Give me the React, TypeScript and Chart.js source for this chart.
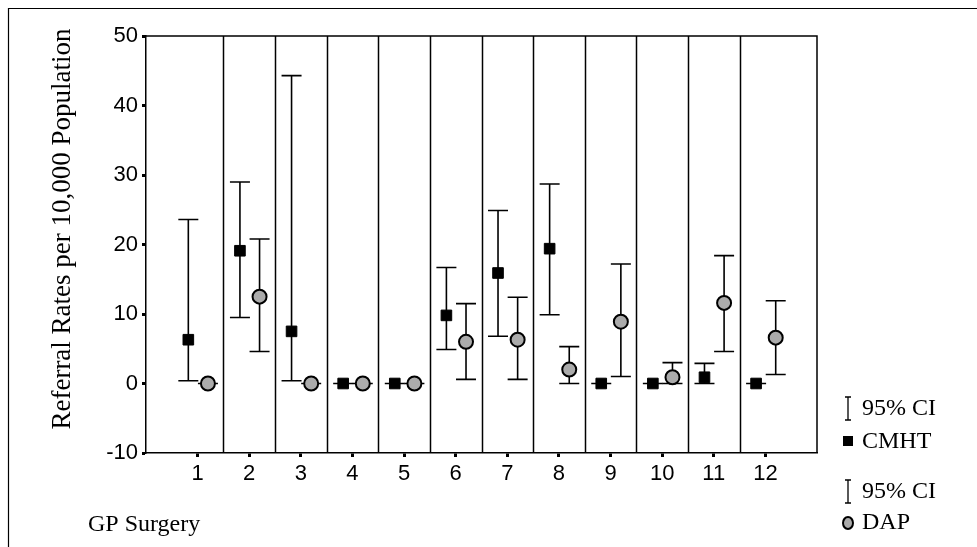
import React, { useEffect, useRef } from "react";
import { Chart, registerables } from "chart.js";

Chart.register(...registerables);

const categories = [1, 2, 3, 4, 5, 6, 7, 8, 9, 10, 11, 12];
const cmhtRate = [6.3, 19.1, 7.5, 0, 0, 9.8, 15.9, 19.4, 0, 0, 0.9, 0];
const cmhtLower = [0.4, 9.5, 0.4, 0, 0, 4.9, 6.8, 9.9, 0, 0, 0, 0];
const cmhtUpper = [23.6, 29.0, 44.3, 0, 0, 16.7, 24.9, 28.7, 0, 0, 2.9, 0];
const dapRate = [0, 12.5, 0, 0, 0, 6.0, 6.3, 2.0, 8.9, 0.9, 11.6, 6.6];
const dapLower = [0, 4.6, 0, 0, 0, 0.6, 0.6, 0, 1.0, 0, 4.6, 1.3];
const dapUpper = [0, 20.8, 0, 0, 0, 11.5, 12.4, 5.3, 17.2, 3.0, 18.4, 11.9];
const yTicks = [-10, 0, 10, 20, 30, 40, 50];
const yTitle = "Referral Rates per 10,000 Population";
const xTitle = "GP Surgery";
const legendLabels = ["95% CI", "CMHT", "95% CI", "DAP"];

const CMHT_OFFSET = -0.18;
const DAP_OFFSET = 0.2;
const SERIF = "'Liberation Serif', 'Times New Roman', serif";
const SANS = "'Liberation Sans', Arial, sans-serif";
const DAP_FILL = "#ababab";

function drawIBar(ctx: CanvasRenderingContext2D, x: number, y1: number, y2: number, half: number) {
  ctx.beginPath();
  ctx.moveTo(x, y1);
  ctx.lineTo(x, y2);
  ctx.moveTo(x - half, y1);
  ctx.lineTo(x + half, y1);
  ctx.moveTo(x - half, y2);
  ctx.lineTo(x + half, y2);
  ctx.stroke();
}

const decorPlugin = {
  id: "decor",
  beforeDatasetsDraw(chart: any) {
    const ctx: CanvasRenderingContext2D = chart.ctx;
    const xs = chart.scales.x;
    const ys = chart.scales.y;
    const area = chart.chartArea;
    ctx.save();
    ctx.strokeStyle = "#000";
    ctx.lineWidth = 1.5;
    for (let i = 0; i < categories.length - 1; i++) {
      const px = Math.round(xs.getPixelForValue(categories[i] + 0.5)) + 0.5;
      ctx.beginPath();
      ctx.moveTo(px, area.top);
      ctx.lineTo(px, area.bottom);
      ctx.stroke();
    }
    ctx.beginPath();
    ctx.moveTo(area.left, area.top);
    ctx.lineTo(area.right, area.top);
    ctx.lineTo(area.right, area.bottom);
    ctx.stroke();
    const drawSet = (off: number, lo: number[], hi: number[]) => {
      categories.forEach((c, i) => {
        const px = xs.getPixelForValue(c + off);
        drawIBar(ctx, px, ys.getPixelForValue(hi[i]), ys.getPixelForValue(lo[i]), 10);
      });
    };
    ctx.lineWidth = 1.6;
    drawSet(CMHT_OFFSET, cmhtLower, cmhtUpper);
    drawSet(DAP_OFFSET, dapLower, dapUpper);
    ctx.restore();
  },
  afterDraw(chart: any) {
    const ctx: CanvasRenderingContext2D = chart.ctx;
    ctx.save();
    ctx.fillStyle = "#000";
    ctx.strokeStyle = "#000";
    ctx.lineWidth = 1.2;
    ctx.beginPath();
    ctx.moveTo(8.5, 547);
    ctx.lineTo(8.5, 8.5);
    ctx.lineTo(977, 8.5);
    ctx.stroke();
    ctx.save();
    ctx.translate(63, 229);
    ctx.rotate(-Math.PI / 2);
    ctx.font = `27px ${SERIF}`;
    ctx.textAlign = "center";
    ctx.textBaseline = "middle";
    ctx.fillText(yTitle, 0, 0);
    ctx.restore();
    ctx.font = `24px ${SERIF}`;
    ctx.textAlign = "left";
    ctx.textBaseline = "middle";
    ctx.fillText(xTitle, 88, 525);
    const lx = 848;
    const tx = 862;
    ctx.lineWidth = 1.3;
    drawIBar(ctx, lx, 397, 420, 3);
    ctx.fillText(legendLabels[0], tx, 409);
    ctx.fillRect(lx - 5, 436, 10, 10);
    ctx.fillText(legendLabels[1], tx, 442);
    drawIBar(ctx, lx, 480, 503, 3);
    ctx.fillText(legendLabels[2], tx, 492);
    ctx.beginPath();
    ctx.ellipse(lx, 523, 5, 6, 0, 0, Math.PI * 2);
    ctx.fillStyle = DAP_FILL;
    ctx.fill();
    ctx.lineWidth = 2;
    ctx.stroke();
    ctx.fillStyle = "#000";
    ctx.fillText(legendLabels[3], tx, 523);
    ctx.restore();
  },
};

export default function App() {
  const ref = useRef<HTMLCanvasElement | null>(null);
  useEffect(() => {
    if (!ref.current) return;
    const chart = new Chart(ref.current, {
      type: "scatter",
      data: {
        datasets: [
          {
            label: "CMHT",
            data: categories.map((c, i) => ({ x: c + CMHT_OFFSET, y: cmhtRate[i] })),
            pointStyle: "rect",
            pointRadius: 7.5,
            backgroundColor: "#000",
            borderColor: "#000",
            borderWidth: 1,
          },
          {
            label: "DAP",
            data: categories.map((c, i) => ({ x: c + DAP_OFFSET, y: dapRate[i] })),
            pointStyle: "circle",
            pointRadius: 7,
            backgroundColor: DAP_FILL,
            borderColor: "#000",
            borderWidth: 2,
          },
        ],
      },
      options: {
        responsive: false,
        animation: false,
        layout: { padding: { left: 0, top: 36, right: 160, bottom: 54 } },
        plugins: { legend: { display: false }, tooltip: { enabled: false } },
        scales: {
          x: {
            type: "linear",
            min: 0,
            max: 13,
            afterFit: (s: any) => {
              s.height = 40;
            },
            afterBuildTicks: (s: any) => {
              s.ticks = categories.map((v) => ({ value: v }));
            },
            ticks: {
              autoSkip: false,
              maxRotation: 0,
              padding: 4,
              color: "#000",
              font: { family: SANS, size: 22 },
              callback: (v: any) => String(v),
            },
            grid: { drawOnChartArea: false, drawTicks: true, tickLength: 4, tickWidth: 3, tickColor: "#000" },
            border: { display: true, color: "#000", width: 1.5 },
          },
          y: {
            min: -10,
            max: 50,
            afterFit: (s: any) => {
              s.width = 146;
            },
            afterBuildTicks: (s: any) => {
              s.ticks = yTicks.map((v) => ({ value: v }));
            },
            ticks: {
              padding: 4,
              color: "#000",
              font: { family: SANS, size: 22 },
              callback: (v: any) => String(v),
            },
            grid: { drawOnChartArea: false, drawTicks: true, tickLength: 4, tickWidth: 3, tickColor: "#000" },
            border: { display: true, color: "#000", width: 1.5 },
          },
        },
      },
      plugins: [decorPlugin],
    });
    return () => chart.destroy();
  }, []);
  return (
    <div style={{ position: "fixed", left: 0, top: 0, width: 977, height: 547, background: "#fff" }}>
      <canvas ref={ref} width={977} height={547} style={{ display: "block" }} />
    </div>
  );
}
